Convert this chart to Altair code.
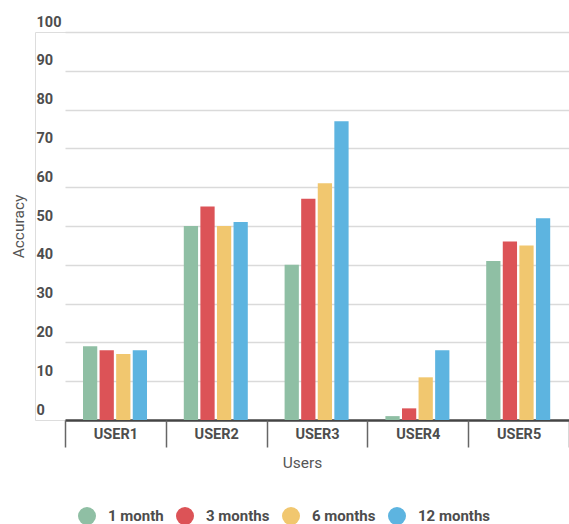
import altair as alt
import pandas as pd

users = ["USER1", "USER2", "USER3", "USER4", "USER5"]
periods = ["1 month", "3 months", "6 months", "12 months"]
vals_1m = [19, 50, 40, 1, 41]
vals_3m = [18, 55, 57, 3, 46]
vals_6m = [17, 50, 61, 11, 45]
vals_12m = [18, 51, 77, 18, 52]
colors = ["#8fbfa4", "#dc5357", "#f1c76f", "#5db4e0"]
y_ticks = [0, 10, 20, 30, 40, 50, 60, 70, 80, 90, 100]

series = [vals_1m, vals_3m, vals_6m, vals_12m]
rows = []
for p, vals in zip(periods, series):
    for u, v in zip(users, vals):
        rows.append({"user": u, "period": p, "accuracy": v})
df = pd.DataFrame(rows)

FONT = "Roboto"
LBL = "#4d4d4d"

chart = alt.Chart(df).mark_bar().encode(
    x=alt.X(
        "user:N",
        sort=users,
        scale=alt.Scale(range=[30, 534], paddingInner=0, paddingOuter=0),
        axis=alt.Axis(
            title="Users",
            domain=False,
            grid=False,
            ticks=True,
            tickBand="extent",
            tickSize=27,
            tickColor="#666666",
            tickWidth=1.5,
            labelAngle=0,
            labelFont=FONT,
            labelFontSize=14.5,
            labelFontWeight="bold",
            labelColor=LBL,
            labelBaseline="top",
            labelPadding=-20,
            titleFont=FONT,
            titleFontSize=15.5,
            titleFontWeight="normal",
            titleColor="#555555",
            titleX=267,
            titleY=42,
            titleBaseline="middle",
            titleAlign="center",
        ),
    ),
    xOffset=alt.XOffset(
        "period:N",
        sort=periods,
        scale=alt.Scale(range=[18, 82], paddingInner=0.14, paddingOuter=0),
    ),
    y=alt.Y(
        "accuracy:Q",
        scale=alt.Scale(domain=[0, 100], nice=False),
        axis=alt.Axis(
            title="Accuracy",
            values=y_ticks,
            labelOverlap=False,
            domain=False,
            ticks=False,
            grid=True,
            gridColor=alt.condition("datum.value === 0", alt.value("#444444"), alt.value("#dadada")),
            gridWidth=alt.condition("datum.value === 0", alt.value(2.5), alt.value(1.5)),
            labelFont=FONT,
            labelFontSize=14.5,
            labelFontWeight="bold",
            labelColor=LBL,
            labelAlign="left",
            labelBaseline="alphabetic",
            labelPadding=-1,
            labelOffset=-6,
            titleFont=FONT,
            titleFontSize=15.5,
            titleFontWeight="normal",
            titleColor="#555555",
            titleX=-17,
            titleY=194,
            titleBaseline="middle",
            titleAlign="center",
        ),
    ),
    color=alt.Color(
        "period:N",
        sort=periods,
        scale=alt.Scale(domain=periods, range=colors),
        legend=alt.Legend(
            title=None,
            orient="none",
            legendX=43,
            legendY=475,
            direction="horizontal",
            symbolType="circle",
            symbolSize=324,
            symbolStrokeWidth=0,
            symbolOpacity=1,
            labelFont=FONT,
            labelFontSize=15,
            labelFontWeight="bold",
            labelColor=LBL,
            labelOffset=12,
            columnPadding=12,
        ),
    ),
).properties(
    width=534,
    height=388,
    autosize=alt.AutoSizeParams(type="none"),
    padding={"left": 35, "top": 32, "right": 0, "bottom": 104},
).configure_view(stroke=None).configure(background="white")

chart.save("out.html", embed_options={"renderer": "svg", "actions": False})
